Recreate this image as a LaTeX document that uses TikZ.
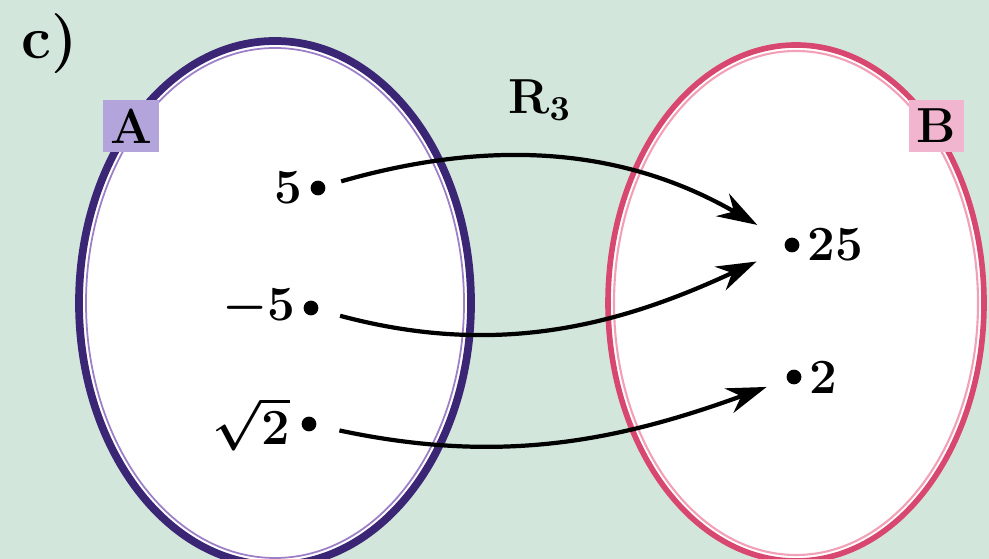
\documentclass[tikz,border=0pt]{standalone}
\usepackage{amsmath,amssymb}
\usepackage{tikz}
\usetikzlibrary{arrows.meta,positioning}

\definecolor{bgcol}{HTML}{D3E6DC}
\definecolor{setA}{HTML}{3A2674}
\definecolor{setAin}{HTML}{9C7FC6}
\definecolor{setB}{HTML}{D8476F}
\definecolor{setBin}{HTML}{F2A0B8}
\definecolor{tagA}{HTML}{B3A5DC}
\definecolor{tagB}{HTML}{F1B5CF}

\begin{document}
\begin{tikzpicture}[
  x=0.01cm,y=-0.01cm,
  elt/.style={circle, fill=black, inner sep=0pt, minimum size=4.2pt},
  lbl/.style={font=\fontsize{14}{16}\selectfont\bfseries, inner sep=1pt},
  tag/.style={minimum width=0.55cm, minimum height=0.52cm, inner sep=0pt, font=\fontsize{14}{16}\selectfont\bfseries},
  arr/.style={-{Stealth[length=4mm,width=2.6mm]}, line width=1.2pt}
]
\useasboundingbox (0,0) rectangle (989,559);
\clip (0,0) rectangle (989,559);
\fill[bgcol] (0,0) rectangle (989,559);

% the two sets
\filldraw[fill=white, draw=setA, line width=2.2pt] (275,303) ellipse [x radius=196, y radius=262];
\draw[setAin, line width=0.5pt] (275,303) ellipse [x radius=189, y radius=255];
\filldraw[fill=white, draw=setB, line width=1.6pt] (796,303) ellipse [x radius=188, y radius=258];
\draw[setBin, line width=0.6pt] (796,303) ellipse [x radius=182, y radius=252];

\node[font=\fontsize{17}{19}\selectfont\bfseries] (part) at (50,44) {c)};
\node[tag, fill=tagA] (tA) at (131,126) {A};
\node[tag, fill=tagB] (tB) at (936,126) {B};
\node[lbl] (rel) at (540,100) {R$_{\boldsymbol{3}}$};

% elements of A
\node[elt] (a1) at (318,188) {};
\node[elt] (a2) at (311,308) {};
\node[elt] (a3) at (309,424) {};
\node[lbl, left=1pt of a1] {5};
\node[lbl, left=1pt of a2] {$\boldsymbol{-}$5};
\node[lbl, left=2pt of a3] {$\boldsymbol{\sqrt{2}}$};

% elements of B
\node[elt] (b1) at (792,245) {};
\node[elt] (b2) at (794,377) {};
\node[lbl, right=1pt of b1] {25};
\node[lbl, right=1pt of b2] {2};

% relation R3
\draw[arr, shorten <=1.6mm, shorten >=3.2mm] (a1) to[out=16, in=150] (b1);
\draw[arr, shorten <=2.2mm, shorten >=3.1mm] (a2) to[out=-15, in=205] (b1);
\draw[arr, shorten <=2.3mm, shorten >=2.1mm] (a3) to[out=-12, in=200] (b2);
\end{tikzpicture}
\end{document}
